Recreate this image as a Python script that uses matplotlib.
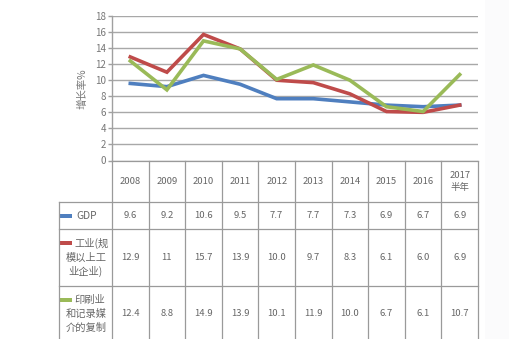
import matplotlib
matplotlib.use("Agg")
import matplotlib.pyplot as plt
from matplotlib.patches import Rectangle

plt.rcParams['font.family'] = ['Noto Sans CJK SC', 'DejaVu Sans']

years = ["2008", "2009", "2010", "2011", "2012", "2013", "2014", "2015", "2016", "2017\n半年"]
gdp = [9.6, 9.2, 10.6, 9.5, 7.7, 7.7, 7.3, 6.9, 6.7, 6.9]
industry = [12.9, 11, 15.7, 13.9, 10.0, 9.7, 8.3, 6.1, 6.0, 6.9]
printing = [12.4, 8.8, 14.9, 13.9, 10.1, 11.9, 10.0, 6.7, 6.1, 10.7]
gdp_txt = ["9.6", "9.2", "10.6", "9.5", "7.7", "7.7", "7.3", "6.9", "6.7", "6.9"]
industry_txt = ["12.9", "11", "15.7", "13.9", "10.0", "9.7", "8.3", "6.1", "6.0", "6.9"]
printing_txt = ["12.4", "8.8", "14.9", "13.9", "10.1", "11.9", "10.0", "6.7", "6.1", "10.7"]
colors = ["#4f7fbf", "#bf4b4a", "#9aba58"]
y_label = "增长率%"

W, H = 509, 339
fig = plt.figure(figsize=(W / 100, H / 100), dpi=100)
fig.patch.set_facecolor("white")

# faint off-white strip on the right side
fig.patches.append(Rectangle((485 / W, 0), 1 - 485 / W, 1, transform=fig.transFigure,
                             facecolor="#fbfbfc", edgecolor="none", zorder=0))

x0, x1 = 112, 478
ytop, ybot = 16, 160.5
ax = fig.add_axes([x0 / W, 1 - ybot / H, (x1 - x0) / W, (ybot - ytop) / H])
ax.set_facecolor("none")
n = len(years)
xs = list(range(n))
ax.set_xlim(-0.5, n - 0.5)
ax.set_ylim(0, 18)
ax.set_yticks(range(0, 19, 2))
ax.set_xticks([])
for y in range(0, 19, 2):
    ax.axhline(y, color="#a8a8a8", lw=1.0, zorder=1)
for s in ["top", "right", "bottom"]:
    ax.spines[s].set_visible(False)
ax.spines["left"].set_color("#a0a0a0")
ax.spines["left"].set_linewidth(1.0)
ax.tick_params(axis="y", length=3, width=1.0, color="#a0a0a0", labelsize=7,
               labelcolor="#777777", pad=1)

for vals, c in zip([gdp, industry, printing], colors):
    ax.plot(xs, vals, color=c, lw=2.6, solid_joinstyle="miter", zorder=3)

fig.text(82 / W, 1 - 89 / H, y_label, rotation=90, ha="center", va="center",
         fontsize=7.5, color="#777777")

# data table beneath the chart (pixel coordinates)
tb = fig.add_axes([0, 0, 1, 1])
tb.set_xlim(0, W)
tb.set_ylim(H, 0)
tb.axis("off")
tb.patch.set_alpha(0)

line_kw = dict(color="#9a9a9a", lw=0.9)
lx = 59
row_y = [160.5, 202, 229, 286, 339]
colw = (x1 - x0) / n
# horizontal lines
tb.plot([x0, x1], [row_y[0], row_y[0]], **line_kw)
for y in row_y[1:4]:
    tb.plot([lx, x1], [y, y], **line_kw)
# vertical lines
for i in range(n + 1):
    xv = x0 + i * colw
    tb.plot([xv, xv], [row_y[0], H], **line_kw)
tb.plot([lx, lx], [row_y[1], H], **line_kw)

txt_kw = dict(ha="center", va="center", color="#666666", fontsize=6.8)
for i, yr in enumerate(years):
    xc = x0 + (i + 0.5) * colw
    tb.text(xc, 181.5, yr, linespacing=1.3, **txt_kw)
    tb.text(xc, 216, gdp_txt[i], **txt_kw)
    tb.text(xc, 258, industry_txt[i], **txt_kw)
    tb.text(xc, 314, printing_txt[i], **txt_kw)

# row headers with colour keys
key_y = [216, 243, 300]
for c, ky in zip(colors, key_y):
    tb.add_patch(Rectangle((lx + 1, ky - 2), 12, 4, facecolor=c, edgecolor="none"))
lbl_kw = dict(color="#666666", fontsize=7.4, va="center")
ctr_kw = dict(color="#666666", fontsize=7.4, va="center", ha="center")
tb.text(76, 216, "GDP", **lbl_kw)
tb.text(74, 243, "工业(规", **lbl_kw)
tb.text(86, 257.7, "模以上工", **ctr_kw)
tb.text(86, 271.7, "业企业)", **ctr_kw)
tb.text(74, 300, "印刷业", **lbl_kw)
tb.text(86, 314, "和记录媒", **ctr_kw)
tb.text(86, 327.5, "介的复制", **ctr_kw)

fig.savefig("out.png", dpi=100, facecolor="white")
